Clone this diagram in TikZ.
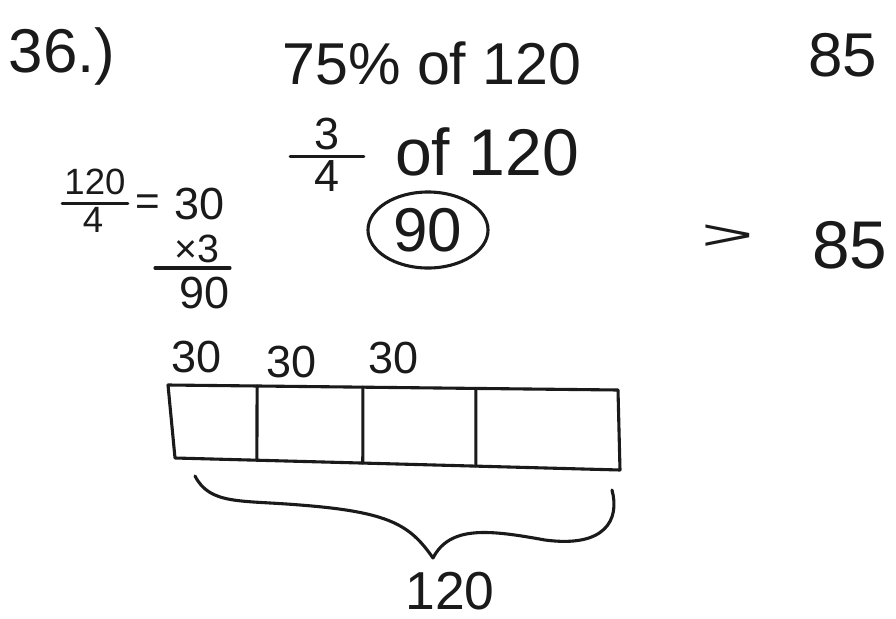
\documentclass[tikz,border=0pt]{standalone}
\usepackage{fontspec}
\setmainfont{Liberation Sans}
\usepackage{xcolor}
\usepackage{tikz}
\usetikzlibrary{calc,shapes.geometric}
\definecolor{inkblack}{HTML}{1A1A1A}
\tikzset{
  ink/.style={draw=inkblack, line width=2.2pt, line cap=round, line join=round},
  hand/.style={inner sep=0pt, text=inkblack, font=\fontsize{#1}{#1}\selectfont},
  hand/.default=42,
  ring/.style={ellipse, draw=inkblack, line width=2.2pt, minimum width=3cm, minimum height=1.9cm}
}

\begin{document}
\begin{tikzpicture}[x=0.025cm, y=-0.025cm]
  \useasboundingbox[fill=white] (0,0) rectangle (896,619);

  % heading line
  \node[hand=44] (num) at (62,56) {36.)};
  \node[hand=42] (pct) at (432,63) {75\% of 120};
  \node[hand=44] (topcmp) at (843,55) {85};

  % three fourths of 120
  \node[hand=32] (fnum) at (327,134) {3};
  \node[hand=32] (fden) at (327,176) {4};
  \draw[ink] ($(fnum.south west)+(-24,6)$) coordinate (fa) -- ($(fnum.south east)+(24,6)$) coordinate (fb);
  \node[hand=47] (of) at (487,152) {of 120};

  % working on the left
  \node[hand=26] (wnum) at (95,182) {120};
  \node[hand=26] (wden) at (93,220) {4};
  \draw[ink] ($(wnum.south west)+(-2,8)$) -- ($(wnum.south east)+(2,8)$);
  \node[hand=30] (eq) at (148,205) {=};
  \node[hand=32] (quot) at (200,204) {30};
  \node[hand=28] (times) at (197,249) {×3};
  \draw[ink] (155,268) coordinate (ra) -- (230,268) coordinate (rb);
  \node[hand=32] (prod) at (205,293) {90};

  % answer and comparison
  \node[ring, hand=44] (ans) at (428,230) {90};
  \node[hand=40, xscale=1.6, yscale=0.75] (gt) at (728,237) {>};
  \node[hand=48] (cmp) at (850,245) {85};

  % tape diagram
  \coordinate (tl) at (168,385);
  \coordinate (tr) at (618,390);
  \coordinate (br) at (620,470);
  \coordinate (bl) at (175,458);
  \draw[ink] (tl) -- (tr) -- (br) -- (bl) -- cycle;
  \foreach \t/\s in {.198/.184, .433/.422, .684/.676} {
    \draw[ink] ($(tl)!\t!(tr)$) -- ($(bl)!\s!(br)$);
  }
  \node[hand=32] (part1) at (197,357) {30};
  \node[hand=32] (part2) at (292,362) {30};
  \node[hand=32] (part3) at (394,358) {30};

  % brace and total
  \coordinate (bra) at (195,476);
  \coordinate (tip) at (433,558);
  \coordinate (brb) at (612,490);
  \draw[ink] (bra) .. controls (210,505) and (240,500) .. (300,505)
    .. controls (390,512) and (410,525) .. (tip);
  \draw[ink] (tip) .. controls (450,525) and (490,530) .. (545,540)
    .. controls (605,548) and (620,520) .. (brb);
  \node[hand=38] (total) at (450,591) {120};
\end{tikzpicture}
\end{document}
